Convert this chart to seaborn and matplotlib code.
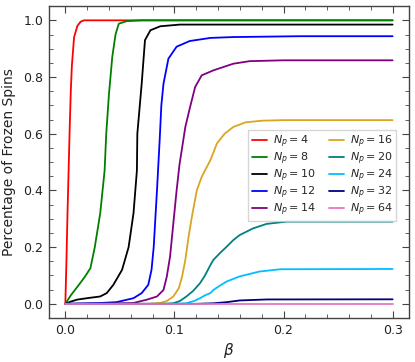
import matplotlib
matplotlib.use("Agg")
import matplotlib.pyplot as plt
from matplotlib.ticker import MultipleLocator
import seaborn as sns
import pandas as pd

# fraction of frozen spins vs beta, one curve per N_p
np_values = [4, 8, 10, 12, 14, 16, 20, 24, 32, 64]
colors = ['red', 'green', 'black', 'blue', 'purple',
          'goldenrod', 'teal', 'deepskyblue', 'navy', '#e377c2']

beta_4 = [0, 0.001, 0.002, 0.003, 0.004, 0.005, 0.006, 0.008, 0.011, 0.014, 0.017, 0.3]
frac_4 = [0, 0.15, 0.32, 0.47, 0.62, 0.75, 0.84, 0.94, 0.98, 0.995, 1.0, 1.0]

beta_8 = [0, 0.005, 0.01, 0.013, 0.018, 0.023, 0.027, 0.032, 0.036, 0.0375,
          0.040, 0.043, 0.046, 0.049, 0.056, 0.07, 0.3]
frac_8 = [0, 0.03, 0.055, 0.07, 0.096, 0.126, 0.2, 0.32, 0.47, 0.6,
          0.74, 0.87, 0.95, 0.988, 0.997, 1.0, 1.0]

beta_10 = [0, 0.005, 0.011, 0.02, 0.032, 0.038, 0.044, 0.052, 0.058, 0.0625,
           0.0656, 0.066, 0.070, 0.073, 0.078, 0.087, 0.105, 0.3]
frac_10 = [0, 0.008, 0.015, 0.02, 0.026, 0.038, 0.067, 0.12, 0.2, 0.32,
           0.47, 0.6, 0.777, 0.93, 0.965, 0.979, 0.985, 0.985]

beta_12 = [0, 0.02, 0.032, 0.047, 0.0625, 0.070, 0.076, 0.079, 0.081, 0.084,
           0.0865, 0.088, 0.090, 0.0945, 0.102, 0.114, 0.133, 0.154, 0.215, 0.3]
frac_12 = [0, 0.002, 0.003, 0.006, 0.02, 0.038, 0.067, 0.12, 0.2, 0.4,
           0.58, 0.70, 0.777, 0.865, 0.907, 0.927, 0.938, 0.941, 0.944, 0.944]

beta_14 = [0, 0.04, 0.0625, 0.075, 0.084, 0.090, 0.093, 0.096, 0.099, 0.102,
           0.1046, 0.110, 0.1144, 0.119, 0.125, 0.136, 0.154, 0.169, 0.20, 0.3]
frac_14 = [0, 0.001, 0.003, 0.015, 0.026, 0.049, 0.096, 0.167, 0.284, 0.40,
           0.49, 0.624, 0.695, 0.765, 0.806, 0.824, 0.847, 0.856, 0.859, 0.859]

beta_16 = [0, 0.075, 0.087, 0.093, 0.099, 0.104, 0.107, 0.110, 0.113, 0.116,
           0.1205, 0.125, 0.133, 0.139, 0.146, 0.154, 0.165, 0.18, 0.20, 0.3]
frac_16 = [0, 0, 0.003, 0.01, 0.026, 0.055, 0.096, 0.155, 0.237, 0.307,
           0.40, 0.448, 0.507, 0.566, 0.60, 0.624, 0.64, 0.646, 0.648, 0.648]

beta_20 = [0, 0.09, 0.099, 0.105, 0.111, 0.117, 0.1235, 0.128, 0.133, 0.1357,
           0.142, 0.148, 0.154, 0.160, 0.172, 0.1845, 0.203, 0.3]
frac_20 = [0, 0, 0.002, 0.01, 0.026, 0.045, 0.073, 0.1, 0.137, 0.155,
           0.18, 0.202, 0.225, 0.243, 0.266, 0.282, 0.29, 0.29]

beta_24 = [0, 0.10, 0.111, 0.118, 0.1235, 0.128, 0.133, 0.1357, 0.142, 0.148,
           0.160, 0.178, 0.197, 0.3]
frac_24 = [0, 0, 0.002, 0.01, 0.02, 0.03, 0.038, 0.049, 0.065, 0.079,
           0.097, 0.114, 0.122, 0.123]

beta_32 = [0, 0.12, 0.136, 0.148, 0.160, 0.185, 0.3]
frac_32 = [0, 0, 0.002, 0.006, 0.012, 0.0155, 0.016]

beta_64 = [0, 0.3]
frac_64 = [0, 0]

betas = [beta_4, beta_8, beta_10, beta_12, beta_14, beta_16, beta_20, beta_24, beta_32, beta_64]
fracs = [frac_4, frac_8, frac_10, frac_12, frac_14, frac_16, frac_20, frac_24, frac_32, frac_64]

frames = []
for n, b, f in zip(np_values, betas, fracs):
    frames.append(pd.DataFrame({'beta': b, 'frac': f, 'Np': r'$N_p = %d$' % n}))
df = pd.concat(frames, ignore_index=True)
labels = [r'$N_p = %d$' % n for n in np_values]

sns.set_style("ticks")
plt.rcParams['font.family'] = ['DejaVu Sans']

fig = plt.figure(figsize=(4.15, 3.62), dpi=100)
ax = fig.add_axes([0.118, 0.1215, 0.8675, 0.8615])

sns.lineplot(data=df, x='beta', y='frac', hue='Np', hue_order=labels,
             palette=dict(zip(labels, colors)), estimator=None, sort=False,
             linewidth=1.3, ax=ax)

ax.set_xlim(-0.015, 0.315)
ax.set_ylim(-0.05, 1.05)
ax.xaxis.set_major_locator(MultipleLocator(0.1))
ax.xaxis.set_minor_locator(MultipleLocator(0.02))
ax.yaxis.set_major_locator(MultipleLocator(0.2))
ax.yaxis.set_minor_locator(MultipleLocator(0.05))
ax.tick_params(which='both', direction='in', top=True, right=True,
               color='#444444', labelsize=9, labelcolor='#222222')
ax.tick_params(which='major', length=5, pad=4)
ax.tick_params(which='minor', length=3)
for s in ax.spines.values():
    s.set_color('#444444')
    s.set_linewidth(1.0)

ax.set_xlabel(r'$\beta$', fontsize=11, color='#222222', labelpad=3)
ax.set_ylabel('Percentage of Frozen Spins', fontsize=10, color='#222222', labelpad=5)

ax.legend(ncol=2, loc='upper right', bbox_to_anchor=(0.964, 0.603),
          borderaxespad=0, fontsize=8, handlelength=1.4, handletextpad=0.5,
          columnspacing=1.2, labelspacing=0.05, borderpad=0.3, frameon=True,
          fancybox=False, edgecolor='#cccccc')

fig.savefig('out.png', dpi=100)
